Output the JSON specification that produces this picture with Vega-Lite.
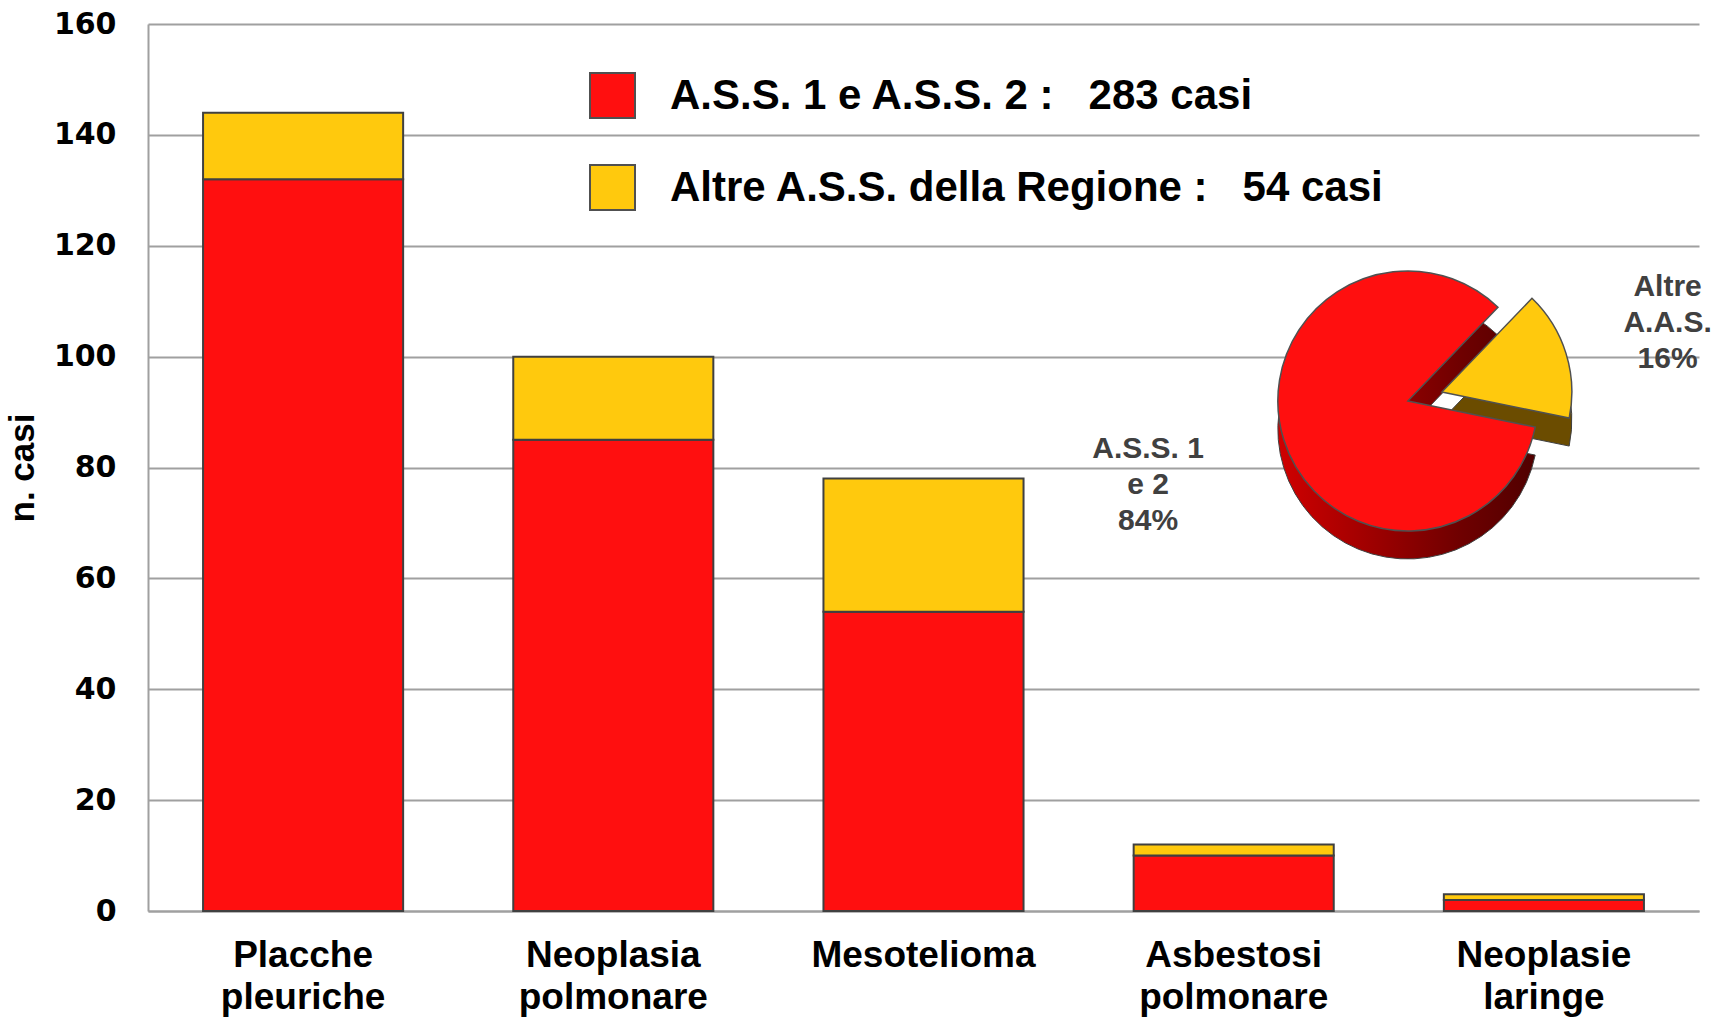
{
  "$schema": "https://vega.github.io/schema/vega-lite/v6.json",
  "width": 1551,
  "height": 887,
  "autosize": {"type": "none"},
  "padding": {"left": 148, "top": 24, "right": 22, "bottom": 106},
  "background": "white",
  "config": {"view": {"stroke": null}, "font": "Liberation Sans"},
  "datasets": {
    "barre": [
      {"categoria": "Placche pleuriche", "gruppo": "A.S.S. 1 e A.S.S. 2", "n": 132},
      {"categoria": "Placche pleuriche", "gruppo": "Altre A.S.S. della Regione", "n": 12},
      {"categoria": "Neoplasia polmonare", "gruppo": "A.S.S. 1 e A.S.S. 2", "n": 85},
      {"categoria": "Neoplasia polmonare", "gruppo": "Altre A.S.S. della Regione", "n": 15},
      {"categoria": "Mesotelioma", "gruppo": "A.S.S. 1 e A.S.S. 2", "n": 54},
      {"categoria": "Mesotelioma", "gruppo": "Altre A.S.S. della Regione", "n": 24},
      {"categoria": "Asbestosi polmonare", "gruppo": "A.S.S. 1 e A.S.S. 2", "n": 10},
      {"categoria": "Asbestosi polmonare", "gruppo": "Altre A.S.S. della Regione", "n": 2},
      {"categoria": "Neoplasie laringe", "gruppo": "A.S.S. 1 e A.S.S. 2", "n": 2},
      {"categoria": "Neoplasie laringe", "gruppo": "Altre A.S.S. della Regione", "n": 1}
    ],
    "torta": [
      {"gruppo": "A.S.S. 1 e A.S.S. 2", "n": 283, "etichetta": "A.S.S. 1\ne 2\n84%"},
      {"gruppo": "Altre A.S.S. della Regione", "n": 54, "etichetta": "Altre\nA.A.S.\n16%"}
    ]
  },
  "layer": [
    {
      "data": {"name": "barre"},
      "mark": {"type": "bar", "stroke": "#404040", "strokeWidth": 2},
      "encoding": {
        "x": {
          "field": "categoria", "type": "nominal", "sort": null,
          "scale": {"paddingInner": 0.355},
          "axis": {
            "title": null, "labelAngle": 0, "ticks": false,
            "domainColor": "#a0a0a0", "domainWidth": 2,
            "labelFont": "Liberation Sans", "labelFontWeight": "bold", "labelFontSize": 37,
            "labelColor": "black", "labelPadding": 26, "labelLineHeight": 42, "labelLimit": 500,
            "labelExpr": "split(datum.label, ' ')"
          }
        },
        "y": {
          "field": "n", "type": "quantitative", "stack": "zero",
          "scale": {"domain": [0, 160]},
          "axis": {
            "title": "n. casi", "titleFont": "Liberation Sans", "titleFontWeight": "bold",
            "titleFontSize": 35, "titleColor": "black", "titlePadding": 13,
            "values": [0, 20, 40, 60, 80, 100, 120, 140, 160],
            "labelFont": "DejaVu Sans", "labelFontWeight": "bold", "labelFontSize": 30,
            "labelColor": "black", "labelPadding": 32, "ticks": false,
            "grid": true, "gridColor": "#a0a0a0", "gridWidth": 2,
            "domainColor": "#a0a0a0", "domainWidth": 2
          }
        },
        "order": {"field": "gruppo", "sort": "ascending"},
        "color": {
          "field": "gruppo", "type": "nominal",
          "scale": {"domain": ["A.S.S. 1 e A.S.S. 2", "Altre A.S.S. della Regione"], "range": ["#ff0f0f", "#ffc90d"]},
          "legend": {
            "title": null, "orient": "none", "legendX": 441, "legendY": 48, "padding": 0,
            "symbolType": "square", "symbolSize": 2025, "symbolStrokeColor": "#404040",
            "symbolStrokeWidth": 2, "symbolOpacity": 1,
            "labelFont": "Liberation Sans", "labelFontWeight": "bold", "labelFontSize": 42,
            "labelColor": "black", "labelOffset": 34, "rowPadding": 39, "labelLimit": 900,
            "labelExpr": "datum.label == 'A.S.S. 1 e A.S.S. 2' ? 'A.S.S. 1 e A.S.S. 2 :\u00a0\u00a0\u00a0283 casi' : 'Altre A.S.S. della Regione :\u00a0\u00a0\u00a054 casi'"
          }
        }
      }
    },
    {
      "data": {"name": "torta"},
      "mark": {
        "type": "arc", "outerRadius": 130, "stroke": "#404040", "strokeWidth": 1,
        "xOffset": {"expr": "datum.gruppo == 'Altre A.S.S. della Regione' ? 34 : 0"},
        "yOffset": {"expr": "datum.gruppo == 'Altre A.S.S. della Regione' ? 19 : 28"}
      },
      "encoding": {
        "theta": {"field": "n", "type": "quantitative", "stack": true, "scale": {"range": [1.773, 8.056]}},
        "x": {"datum": "Neoplasie laringe", "type": "nominal", "bandPosition": -0.18},
        "y": {"datum": 92, "type": "quantitative"},
        "color": {
          "condition": {"test": "datum.gruppo == 'Altre A.S.S. della Regione'", "value": "#6b4c00"},
          "value": {"gradient": "linear", "x1": 0, "y1": 0, "x2": 1, "y2": 0,
            "stops": [{"offset": 0, "color": "#d00000"}, {"offset": 0.7, "color": "#700000"}, {"offset": 1, "color": "#500000"}]}
        }
      }
    },
    {
      "data": {"name": "torta"},
      "mark": {
        "type": "arc", "outerRadius": 130, "stroke": "#505050", "strokeWidth": 1.5,
        "xOffset": {"expr": "datum.gruppo == 'Altre A.S.S. della Regione' ? 34 : 0"},
        "yOffset": {"expr": "datum.gruppo == 'Altre A.S.S. della Regione' ? -9 : 0"}
      },
      "encoding": {
        "theta": {"field": "n", "type": "quantitative", "stack": true, "scale": {"range": [1.773, 8.056]}},
        "x": {"datum": "Neoplasie laringe", "type": "nominal", "bandPosition": -0.18},
        "y": {"datum": 92, "type": "quantitative"},
        "color": {"field": "gruppo", "type": "nominal"}
      }
    },
    {
      "data": {"name": "torta"},
      "mark": {
        "type": "text", "radius": 272, "font": "Liberation Sans", "fontWeight": "bold",
        "fontSize": 30, "color": "#404040", "lineBreak": "\n", "lineHeight": 36,
        "align": "center", "baseline": "middle", "dy": -33
      },
      "encoding": {
        "theta": {"field": "n", "type": "quantitative", "stack": true, "scale": {"range": [1.773, 8.056]}},
        "x": {"datum": "Neoplasie laringe", "type": "nominal", "bandPosition": -0.18},
        "y": {"datum": 92, "type": "quantitative"},
        "text": {"field": "etichetta"}
      }
    }
  ]
}
